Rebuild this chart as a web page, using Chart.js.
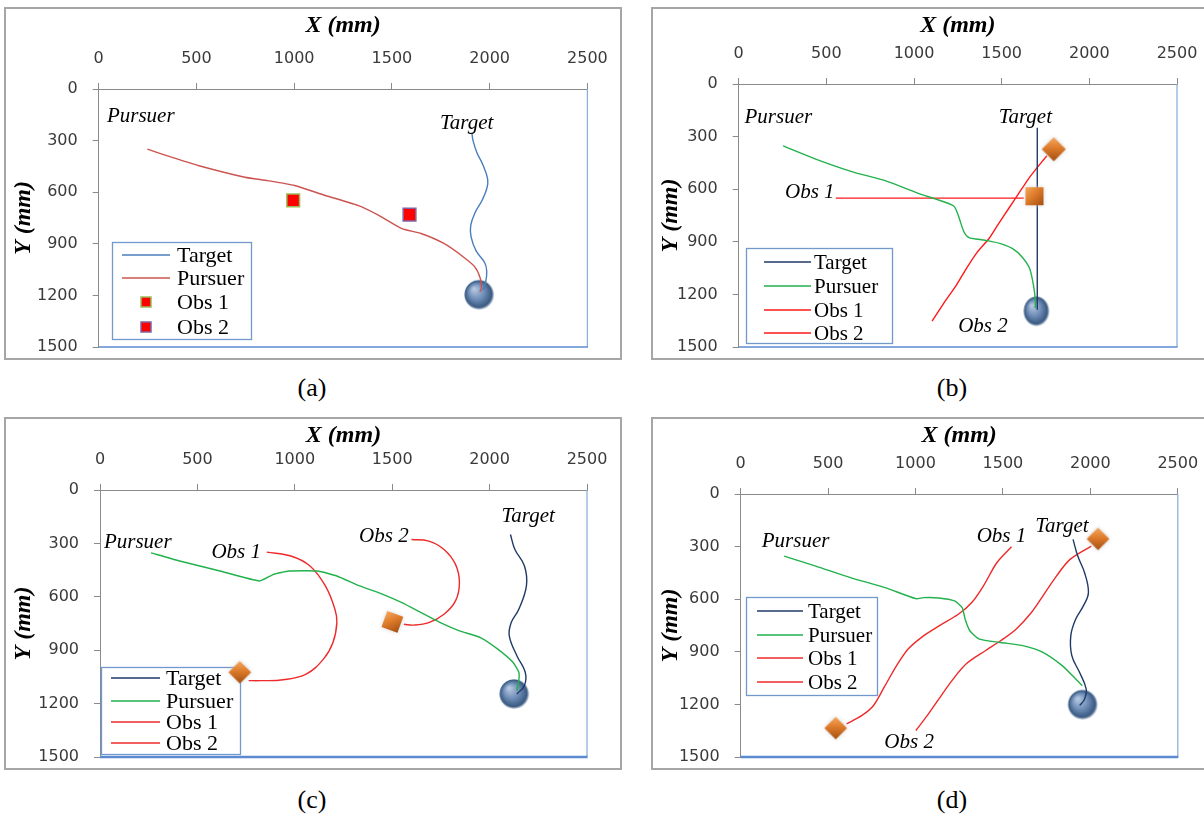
<!DOCTYPE html>
<html><head><meta charset="utf-8">
<script src="https://cdn.jsdelivr.net/npm/chart.js@4.4.1/dist/chart.umd.min.js"></script>
<style>
html,body{margin:0;padding:0;background:#fff;}
body{width:1204px;height:821px;position:relative;overflow:hidden;}
.frame{position:absolute;border:2px solid #a6a6a6;box-sizing:border-box;pointer-events:none;}
.cap{position:absolute;font:26px 'Liberation Serif',serif;color:#000;transform:translate(-50%,-50%);white-space:nowrap;}
canvas{position:absolute;}
</style></head><body>
<script>
// ---------- tick labels / names ----------
const xTicks = [0, 500, 1000, 1500, 2000, 2500];
const yTicks = [0, 300, 600, 900, 1200, 1500];
const seriesNames = ['Target', 'Pursuer', 'Obs 1', 'Obs 2'];

// ---------- panel (a) ----------
const aTarget = [[1909,254],[1915,300],[1935,370],[1965,440],[1990,525],[1985,580],[1960,650],[1925,720],[1903,794],[1905,860],[1930,940],[1975,1010],[1985,1060],[1980,1120],[1966,1170]];
const aPursuer = [[249,350],[376,398],[513,446],[748,513],[865,533],[1002,561],[1159,619],[1326,677],[1433,735],[1551,812],[1649,840],[1766,898],[1864,975],[1923,1033],[1952,1100],[1958,1158],[1950,1180]];
const aObs1 = [[995,648]];
const aObs2 = [[1590,731]];
const aBall = [[1946,1196]];

// ---------- panel (b) ----------
const bTarget = [[1703,249],[1703,1287]];
const bPursuer = [[253,353],[439,428],[659,504],[835,551],[1033,627],[1120,655],[1226,696],[1252,749],[1285,844],[1314,876],[1406,891],[1494,910],[1560,938],[1615,985],[1659,1051],[1681,1145],[1692,1230],[1692,1278]];
const bObs1 = [[554,651],[1626,651]];
const bObs2 = [[1103,1353],[1170,1250],[1240,1150],[1300,1050],[1360,960],[1428,881],[1480,800],[1540,710],[1600,620],[1650,545],[1700,480],[1758,409]];
const bObs1Mark = [[1687,640]];
const bObs2Mark = [[1797,372]];
const bBall = [[1698,1296]];

// ---------- panel (c) ----------
const cTarget = [[2107,250],[2130,334],[2179,427],[2189,539],[2150,670],[2111,745],[2101,819],[2140,931],[2183,1024],[2179,1099],[2140,1146]];
const cPursuer = [[262,353],[409,399],[616,455],[819,511],[891,474],[970,455],[1117,455],[1216,483],[1334,539],[1452,586],[1550,633],[1648,689],[1747,745],[1845,791],[1953,829],[2042,894],[2120,968],[2150,1024],[2150,1071],[2140,1127]];
const cObs1 = [[856,349],[980,371],[1078,427],[1157,539],[1206,670],[1216,745],[1196,857],[1147,950],[1058,1034],[940,1066],[822,1071],[763,1071]];
const cObs2 = [[1599,278],[1688,287],[1766,334],[1825,418],[1845,521],[1825,623],[1766,698],[1688,745],[1609,759],[1560,754]];
const cObs1Mark = [[718,1024]];
const cObs2Mark = [[1501,741]];
const cBall = [[2126,1146]];

// ---------- panel (d) ----------
const dTarget = [[1901,259],[1928,354],[1967,449],[1989,563],[1960,638],[1916,714],[1888,809],[1894,922],[1938,1017],[1976,1112],[1967,1169],[1939,1206]];
const dPursuer = [[249,354],[430,411],[628,477],[826,534],[1002,597],[1046,591],[1134,593],[1223,610],[1267,648],[1284,714],[1311,780],[1366,828],[1487,847],[1619,866],[1729,903],[1839,979],[1916,1055],[1954,1093]];
const dObs1 = [[1549,301],[1465,392],[1388,525],[1322,619],[1245,686],[1135,752],[1046,809],[958,884],[892,979],[826,1093],[760,1206],[694,1263],[606,1311]];
const dObs2 = [[1002,1349],[1068,1263],[1134,1169],[1201,1074],[1289,970],[1399,894],[1487,837],[1575,771],[1663,676],[1729,581],[1806,468],[1884,373],[2005,297]];
const dObs1Mark = [[544,1335]];
const dObs2Mark = [[2044,256]];
const dBall = [[1956,1201]];

// ---------- helpers ----------
const pts = arr => arr.map(([x, y]) => ({x, y}));

function orangeMarker(side, diamond) {
  const diag = diamond ? side * Math.SQRT2 : side;
  const W = Math.ceil(diag) + 8;
  const c = document.createElement('canvas');
  c.width = W; c.height = W;
  const g = c.getContext('2d');
  g.translate(W / 2, W / 2);
  if (diamond) g.rotate(Math.PI / 4);
  g.shadowColor = 'rgba(200,200,200,0.8)';
  g.shadowBlur = 4;
  const grad = g.createLinearGradient(-side / 2, -side / 2, side / 2, side / 2);
  grad.addColorStop(0, '#f4a85e');
  grad.addColorStop(0.45, '#de7b2b');
  grad.addColorStop(1, '#a34e12');
  g.fillStyle = grad;
  g.fillRect(-side / 2, -side / 2, side, side);
  return c;
}
function ballMarker(rx, ry) {
  const c = document.createElement('canvas');
  c.width = rx * 2 + 6; c.height = ry * 2 + 6;
  const g = c.getContext('2d');
  g.translate(c.width / 2, c.height / 2);
  g.scale(1, ry / rx);
  const grad = g.createRadialGradient(-rx * 0.35, -rx * 0.4, rx * 0.05, 0, 0, rx);
  grad.addColorStop(0, '#b5c8e2');
  grad.addColorStop(0.5, '#6f8db6');
  grad.addColorStop(0.88, '#3a5a82');
  grad.addColorStop(1, 'rgba(58,90,130,0.2)');
  g.fillStyle = grad;
  g.beginPath(); g.arc(0, 0, rx, 0, Math.PI * 2); g.fill();
  return c;
}

const NAVY = '#1f3a66', GREEN = '#22b14c', RED = '#ee2a2a';

function lineDs(label, arr, color, tension, extra) {
  return Object.assign({label, data: pts(arr), showLine: true, borderColor: color, backgroundColor: color,
    borderWidth: 1.4, pointRadius: 0, tension: tension, inLegend: true, order: 1}, extra || {});
}
function markDs(arr, style, rot) {
  return {label: 'marker', data: pts(arr), showLine: false, pointStyle: style, pointRadius: 10,
    rotation: rot || 0, inLegend: false, order: 0};
}
function ballDs(arr, rx, ry) {
  return {label: 'ball', data: pts(arr), showLine: false, pointStyle: ballMarker(rx, ry), pointRadius: 12, inLegend: false, order: 10};
}

// ---------- panels (layout in page pixels) ----------
const panels = [
  {
    frame: [4, 7, 622, 360], plot: [98.7, 89, 587.4, 349], caption: ['(a)', 312, 388],
    datasets: [
      lineDs(seriesNames[0], aTarget, '#4a7ebb', 0.4),
      lineDs(seriesNames[1], aPursuer, '#cc5450', 0.2),
      {label: seriesNames[2], data: pts(aObs1), showLine: false, pointStyle: 'rect', pointRadius: 9, backgroundColor: '#ff0000', borderColor: '#9bbb59', borderWidth: 1.5, inLegend: true, order: 0},
      {label: seriesNames[3], data: pts(aObs2), showLine: false, pointStyle: 'rect', pointRadius: 9, backgroundColor: '#ff0000', borderColor: '#8064a2', borderWidth: 1.5, inLegend: true, order: 0},
      ballDs(aBall, 15, 15)
    ],
    legend: {box: [112, 242, 251, 339], rows: [255, 278, 302, 327], line: [122, 170], text: 177, font: 22},
    notes: [['Pursuer', 42, 160], ['Target', 1746, 200]],
    bottomWidth: 1.5
  },
  {
    frame: [651, 7, 1206, 360], plot: [738.7, 84, 1177, 349], caption: ['(b)', 952, 388],
    datasets: [
      lineDs(seriesNames[0], bTarget, NAVY, 0),
      lineDs(seriesNames[1], bPursuer, GREEN, 0.25),
      lineDs(seriesNames[2], bObs1, '#ff1a1a', 0),
      lineDs(seriesNames[3], bObs2, '#ff1a1a', 0.1),
      markDs(bObs1Mark, orangeMarker(18, false)),
      markDs(bObs2Mark, orangeMarker(17, true)),
      ballDs(bBall, 13, 15)
    ],
    legend: {box: [746, 248, 892, 343], rows: [262, 286, 310, 333], line: [764, 811], text: 814, font: 21},
    notes: [['Pursuer', 33, 192], ['Target', 1483, 192], ['Obs 1', 264, 617], ['Obs 2', 1252, 1381]],
    bottomWidth: 1.5
  },
  {
    frame: [4, 417, 622, 770], plot: [100, 490, 587, 758], caption: ['(c)', 312, 800],
    datasets: [
      lineDs(seriesNames[0], cTarget, NAVY, 0.4),
      lineDs(seriesNames[1], cPursuer, GREEN, 0.15),
      lineDs(seriesNames[2], cObs1, RED, 0.4),
      lineDs(seriesNames[3], cObs2, RED, 0.4),
      markDs(cObs1Mark, orangeMarker(16, true)),
      markDs(cObs2Mark, orangeMarker(17, false), 20),
      ballDs(cBall, 15, 15)
    ],
    legend: {box: [101, 667, 240, 754], rows: [678, 701, 722, 743], line: [111, 160], text: 166, font: 22},
    notes: [['Pursuer', 20, 297], ['Obs 1', 572, 353], ['Obs 2', 1330, 259], ['Target', 2061, 151]],
    bottomWidth: 2.5
  },
  {
    frame: [651, 417, 1206, 770], plot: [740.6, 494, 1177.8, 758], caption: ['(d)', 952, 800],
    datasets: [
      lineDs(seriesNames[0], dTarget, NAVY, 0.4),
      lineDs(seriesNames[1], dPursuer, GREEN, 0.2),
      lineDs(seriesNames[2], dObs1, RED, 0.3),
      lineDs(seriesNames[3], dObs2, RED, 0.3),
      markDs(dObs1Mark, orangeMarker(16, true)),
      markDs(dObs2Mark, orangeMarker(16, true)),
      ballDs(dBall, 15, 15)
    ],
    legend: {box: [746, 597, 877, 695], rows: [611, 635, 658, 682], line: [757, 803], text: 808, font: 21},
    notes: [['Pursuer', 121, 269], ['Obs 1', 1350, 241], ['Target', 1685, 184], ['Obs 2', 822, 1415]],
    bottomWidth: 2.5
  }
];

// ---------- plugins ----------
const boxLegend = {
  id: 'boxLegend',
  beforeDatasetsDraw(chart, args, o) {
    if (!o || !o.box) return;
    const ctx = chart.ctx, ox = o.offset[0], oy = o.offset[1];
    const [x0, y0, x1, y1] = o.box;
    ctx.save();
    ctx.fillStyle = '#fff';
    ctx.fillRect(x0 - ox, y0 - oy, x1 - x0, y1 - y0);
    ctx.strokeStyle = '#7399cc'; ctx.lineWidth = 1.3;
    ctx.strokeRect(x0 - ox + 0.5, y0 - oy + 0.5, x1 - x0, y1 - y0);
    const items = chart.data.datasets.filter(d => d.inLegend);
    ctx.font = o.font + "px 'Liberation Serif'";
    ctx.textBaseline = 'middle'; ctx.textAlign = 'left';
    items.forEach((d, i) => {
      const y = o.rows[i] - oy;
      if (d.showLine === false) {
        const cx = (o.line[0] + o.line[1]) / 2 - ox, s = 10;
        ctx.fillStyle = d.backgroundColor; ctx.fillRect(cx - s / 2, y - s / 2, s, s);
        ctx.strokeStyle = d.borderColor; ctx.lineWidth = 1.5; ctx.strokeRect(cx - s / 2, y - s / 2, s, s);
      } else {
        ctx.strokeStyle = d.borderColor; ctx.lineWidth = 1.5;
        ctx.beginPath(); ctx.moveTo(o.line[0] - ox, y); ctx.lineTo(o.line[1] - ox, y); ctx.stroke();
      }
      ctx.fillStyle = '#000';
      ctx.fillText(d.label, o.text - ox, y + 1);
    });
    ctx.restore();
  }
};
const notesPlugin = {
  id: 'notes',
  afterDatasetsDraw(chart, args, o) {
    if (!o || !o.items) return;
    const ctx = chart.ctx, xs = chart.scales.x, ys = chart.scales.y;
    ctx.save();
    ctx.font = "italic 21px 'Liberation Serif'";
    ctx.fillStyle = '#000'; ctx.textBaseline = 'middle'; ctx.textAlign = 'left';
    o.items.forEach(([t, x, y]) => ctx.fillText(t, xs.getPixelForValue(x), ys.getPixelForValue(y)));
    ctx.restore();
  }
};
const plotBorder = {
  id: 'plotBorder',
  afterDraw(chart, args, o) {
    const {left, top, right, bottom} = chart.chartArea, ctx = chart.ctx;
    ctx.save();
    ctx.strokeStyle = '#8db0de'; ctx.lineWidth = 1.3;
    ctx.beginPath(); ctx.moveTo(right, top); ctx.lineTo(right, bottom); ctx.stroke();
    ctx.strokeStyle = '#5b8ad0'; ctx.lineWidth = o.width || 1.5;
    ctx.beginPath(); ctx.moveTo(left, bottom); ctx.lineTo(right + 0.5, bottom); ctx.stroke();
    ctx.restore();
  }
};

const tickFont = {family: "'DejaVu Sans'", size: 16};
const titleFont = {family: "'Liberation Serif'", size: 24, weight: 'bold', style: 'italic'};
const plainNum = v => String(v);

panels.forEach(p => {
  const [fl, ft, fr, fb] = p.frame;
  const W = fr - fl, H = fb - ft;
  const cv = document.createElement('canvas');
  cv.width = W; cv.height = H;
  cv.style.left = fl + 'px'; cv.style.top = ft + 'px';
  document.body.appendChild(cv);
  const fd = document.createElement('div');
  fd.className = 'frame';
  fd.style.cssText = `left:${fl}px;top:${ft}px;width:${W}px;height:${H}px`;
  document.body.appendChild(fd);
  const cap = document.createElement('div');
  cap.className = 'cap'; cap.textContent = p.caption[0];
  cap.style.left = p.caption[1] + 'px'; cap.style.top = p.caption[2] + 'px';
  document.body.appendChild(cap);

  const pl = p.plot[0] - fl, pt = p.plot[1] - ft, pr = p.plot[2] - fl, pb = p.plot[3] - ft;
  new Chart(cv, {
    type: 'scatter',
    data: {datasets: p.datasets},
    options: {
      responsive: false, animation: false, devicePixelRatio: 1,
      layout: {padding: {left: 0, top: 0, right: W - pr, bottom: H - pb}},
      plugins: {
        legend: {display: false}, tooltip: {enabled: false},
        boxLegend: Object.assign({offset: [fl, ft]}, p.legend),
        notes: {items: p.notes},
        plotBorder: {width: p.bottomWidth}
      },
      scales: {
        x: {
          type: 'linear', position: 'top', min: 0, max: 2500,
          afterBuildTicks: s => { s.ticks = xTicks.map(v => ({value: v})); },
          afterFit: s => { s.height = pt; s.paddingLeft = 0; s.paddingRight = 0; s.paddingTop = 0; s.paddingBottom = 0; },
          ticks: {color: '#3a3a3a', font: tickFont, padding: 15, maxRotation: 0, autoSkip: false, callback: plainNum},
          grid: {drawOnChartArea: false, drawTicks: true, tickLength: 6, color: '#8a8a8a'},
          border: {color: '#8a8a8a', width: 1},
          title: {display: true, text: 'X (mm)', color: '#000', font: titleFont, padding: {top: 4, bottom: 0}}
        },
        y: {
          type: 'linear', position: 'left', reverse: true, min: 0, max: 1500,
          afterBuildTicks: s => { s.ticks = yTicks.map(v => ({value: v})); },
          afterFit: s => { s.width = pl; s.paddingLeft = 0; s.paddingRight = 0; s.paddingTop = 0; s.paddingBottom = 0; },
          ticks: {color: '#3a3a3a', font: tickFont, padding: 15, autoSkip: false, callback: plainNum},
          grid: {drawOnChartArea: false, drawTicks: true, tickLength: 6, color: '#8a8a8a'},
          border: {color: '#8a8a8a', width: 1},
          title: {display: true, text: 'Y (mm)', color: '#000', font: titleFont, padding: {top: 5, bottom: 0}}
        }
      }
    },
    plugins: [boxLegend, notesPlugin, plotBorder]
  });
});
</script>
</body></html>
